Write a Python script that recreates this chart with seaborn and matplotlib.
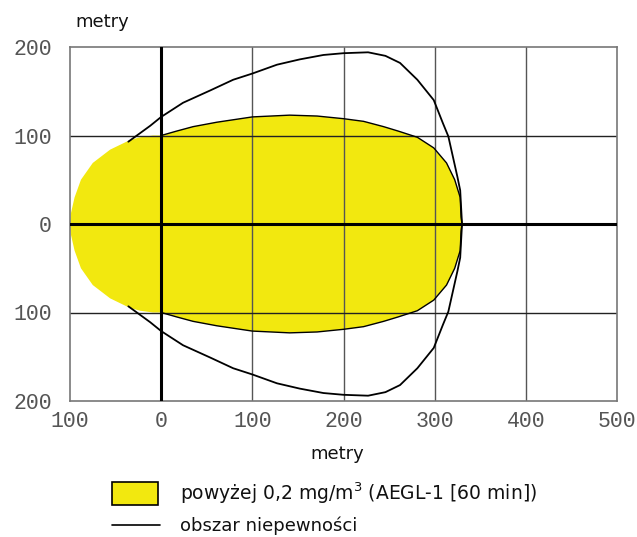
import numpy as np
import pandas as pd
import matplotlib
matplotlib.use("Agg")
import matplotlib.pyplot as plt
import seaborn as sns

# Upper half of the AEGL-1 zone boundary (metres); the lower half is its mirror image
zone_x = [-100, -99, -95, -88, -75, -56, -34, -23, -9, 0, 17, 35, 61, 100, 141, 171, 200, 222,
          244, 260, 281, 299, 313, 322, 328, 329, 330]
zone_y = [0, 12, 30, 50, 69, 84, 95, 98, 100, 100, 105, 110, 115, 121, 123, 122, 119, 116,
          110, 105, 98, 86, 69, 50, 30, 8, 0]

# Upper half of the uncertainty boundary (metres)
unc_x = [-36, -12, 0, 24, 54, 79, 100, 127, 152, 178, 200, 227, 246, 262, 281, 299, 309,
         315, 320, 325, 328, 329, 330]
unc_y = [93, 111, 121, 137, 151, 163, 170, 180, 186, 191, 193, 194, 190, 182, 163, 140, 114,
         99, 76, 53, 38, 19, 0]

x_ticks = [-100, 0, 100, 200, 300, 400, 500]
x_tick_labels = ["100", "0", "100", "200", "300", "400", "500"]
y_ticks = [-200, -100, 0, 100, 200]
y_tick_labels = ["200", "100", "0", "100", "200"]

axis_label = "metry"
zone_label = "powyżej 0,2 mg/m$^3$ (AEGL-1 [60 min])"
unc_label = "obszar niepewności"

YELLOW = "#f2e80f"

sns.set_theme(style="white")
plt.rcParams["font.family"] = ["DejaVu Sans"]

fig = plt.figure(figsize=(6.37, 5.37), dpi=100)
ax = fig.add_axes([70 / 637, 1 - 401 / 537, 547 / 637, 354 / 537])

# closed zone outline: upper half then mirrored lower half
zx = np.array(zone_x, dtype=float)
zy = np.array(zone_y, dtype=float)
poly_x = np.concatenate([zx, zx[::-1]])
poly_y = np.concatenate([zy, -zy[::-1]])
ax.fill(poly_x, poly_y, color=YELLOW, lw=0, zorder=1)

# black edge on the downwind part of the zone
down = zx >= 0
edge = pd.DataFrame({
    "x": np.concatenate([zx[down], zx[down][::-1]]),
    "y": np.concatenate([zy[down], -zy[down][::-1]]),
})
sns.lineplot(data=edge, x="x", y="y", sort=False, estimator=None, color="black",
             lw=1.0, ax=ax, zorder=3)

# uncertainty boundary, open on the upwind side
ux = np.array(unc_x, dtype=float)
uy = np.array(unc_y, dtype=float)
unc = pd.DataFrame({
    "x": np.concatenate([ux, ux[::-1]]),
    "y": np.concatenate([uy, -uy[::-1]]),
})
sns.lineplot(data=unc, x="x", y="y", sort=False, estimator=None, color="black",
             lw=1.3, ax=ax, zorder=4)

ax.set_xlim(-100, 500)
ax.set_ylim(-200, 200)

# grid
for gx in x_ticks:
    if gx not in (-100, 0, 500):
        ax.axvline(gx, color="#555555", lw=1.0, zorder=2)
for gy in (-100, 100):
    ax.axhline(gy, color="#222222", lw=1.0, zorder=2)
ax.axvline(0, color="black", lw=2.2, zorder=5)
ax.axhline(0, color="black", lw=2.2, zorder=5)
for s in ax.spines.values():
    s.set_visible(True)
    s.set_color("#777777")
    s.set_linewidth(1.2)

ax.set_xticks(x_ticks)
ax.set_xticklabels(x_tick_labels)
ax.set_yticks(y_ticks)
ax.set_yticklabels(y_tick_labels)
ax.tick_params(axis="y", length=0, pad=13, labelsize=15.5, labelcolor="#555555")
ax.tick_params(axis="x", length=0, pad=7, labelsize=15.5, labelcolor="#555555")
for lab in ax.get_xticklabels() + ax.get_yticklabels():
    lab.set_family("Liberation Mono")
ax.set_xlabel("")
ax.set_ylabel("")

fig.text(102 / 637, 1 - 22 / 537, axis_label, ha="center", va="center", fontsize=13, color="#111111")
fig.text(337 / 637, 1 - 454 / 537, axis_label, ha="center", va="center", fontsize=13, color="#111111")

# legend drawn below the plot
leg = fig.add_axes([0, 0, 1, 1], facecolor="none")
leg.set_xlim(0, 637)
leg.set_ylim(537, 0)
leg.axis("off")
leg.add_patch(plt.Rectangle((112, 482), 46, 23, facecolor=YELLOW, edgecolor="black", lw=1.2))
leg.plot([112, 160], [525, 525], color="black", lw=1.2)
leg.text(180, 493, zone_label, va="center", ha="left", fontsize=13.5, color="#111111")
leg.text(180, 526, unc_label, va="center", ha="left", fontsize=13, color="#111111")

fig.savefig("out.png", dpi=100)
